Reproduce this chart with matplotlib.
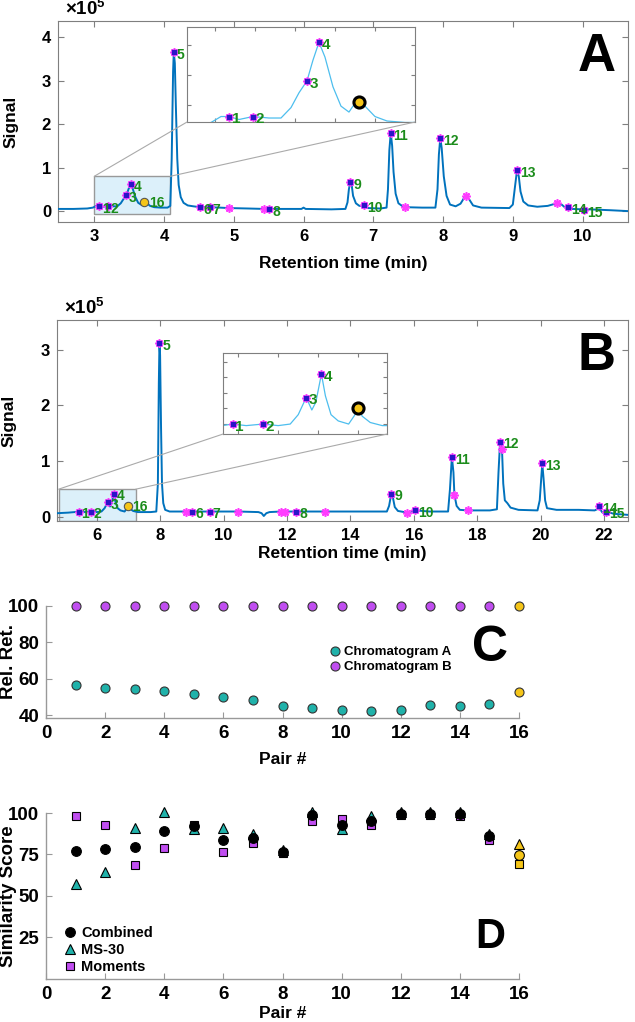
import matplotlib
matplotlib.use('Agg')
import matplotlib.pyplot as plt
from matplotlib.patches import Rectangle, ConnectionPatch

plt.rcParams['font.family'] = ['Liberation Sans', 'DejaVu Sans']
plt.rcParams['font.weight'] = 'bold'
plt.rcParams['axes.labelweight'] = 'bold'
plt.rcParams['mathtext.fontset'] = 'custom'
plt.rcParams['mathtext.rm'] = 'Liberation Sans:bold'
plt.rcParams['mathtext.bf'] = 'Liberation Sans:bold'

# ---- chromatogram A (signal in units of 1e5) ----
trace_A_t = [2.48, 2.7, 2.9, 2.98, 3.03, 3.07, 3.12, 3.19, 3.27, 3.33, 3.38, 3.42, 3.46, 3.49, 3.52,
             3.55, 3.59, 3.63, 3.67, 3.70, 3.72, 3.75, 3.80, 3.86, 3.95, 4.05, 4.09, 4.11, 4.13, 4.14,
             4.155, 4.17, 4.19, 4.21, 4.24, 4.28, 4.34, 4.42, 4.52, 4.66, 4.8, 4.93, 5.2, 5.44, 5.51,
             5.8, 5.97, 6.0, 6.03, 6.4, 6.6, 6.63, 6.65, 6.67, 6.69, 6.71, 6.75, 6.8, 6.87, 6.92,
             7.1, 7.19, 7.21, 7.23, 7.25, 7.27, 7.29, 7.32, 7.36, 7.42, 7.46, 7.7, 7.89, 7.92, 7.94,
             7.96, 7.98, 8.01, 8.05, 8.1, 8.18, 8.25, 8.3, 8.33, 8.37, 8.43, 8.55, 8.95, 9.0, 9.03,
             9.06, 9.085, 9.11, 9.15, 9.22, 9.35, 9.5, 9.63, 9.7, 9.75, 9.79, 9.85, 10.0, 10.02, 10.1,
             10.4, 10.65]
trace_A_y = [0.05, 0.05, 0.06, 0.08, 0.12, 0.12, 0.10, 0.12, 0.11, 0.11, 0.18, 0.28, 0.36, 0.50, 0.62,
             0.52, 0.32, 0.19, 0.15, 0.21, 0.22, 0.19, 0.12, 0.09, 0.08, 0.08, 0.12, 1.2, 3.2, 3.66,
             3.4, 2.4, 1.2, 0.6, 0.32, 0.19, 0.13, 0.11, 0.09, 0.09, 0.08, 0.07, 0.06, 0.05, 0.05,
             0.05, 0.05, 0.08, 0.05, 0.04, 0.05, 0.2, 0.5, 0.67, 0.6, 0.35, 0.18, 0.12, 0.13, 0.07,
             0.06, 0.08, 0.5, 1.4, 1.8, 1.5, 0.9, 0.4, 0.18, 0.11, 0.09, 0.08, 0.08, 0.5, 1.3,
             1.68, 1.45, 0.8, 0.35, 0.15, 0.11, 0.17, 0.3, 0.34, 0.28, 0.13, 0.08, 0.07, 0.15, 0.55,
             0.94, 0.8, 0.45, 0.22, 0.13, 0.1, 0.12, 0.18, 0.15, 0.08, 0.09, 0.05, 0.04, 0.02, 0.04,
             0.02, 0.0]
peaks_A_t = [3.07, 3.19, 3.46, 3.52, 4.14, 4.52, 4.66, 5.51, 6.67, 6.87, 7.25, 7.96, 9.06, 9.79, 10.02]
peaks_A_y = [0.12, 0.12, 0.36, 0.62, 3.66, 0.09, 0.09, 0.05, 0.67, 0.13, 1.80, 1.68, 0.94, 0.09, 0.02]
extra_A_t = [4.93, 5.44, 7.46, 8.33, 9.63]
extra_A_y = [0.07, 0.05, 0.09, 0.34, 0.18]
pair16_A = (3.72, 0.22)

# ---- chromatogram B ----
trace_B_t = [4.75, 5.1, 5.3, 5.43, 5.6, 5.81, 6.0, 6.15, 6.25, 6.35, 6.42, 6.47, 6.54, 6.59, 6.66,
             6.75, 6.88, 6.96, 7.0, 7.05, 7.15, 7.3, 7.7, 7.88, 7.93, 7.96, 7.98, 8.0, 8.03, 8.06,
             8.1, 8.16, 8.3, 8.83, 9.02, 9.56, 10.47, 11.1, 11.2, 11.27, 11.35, 11.45, 11.8, 11.95, 12.3,
             13.2, 14.5, 15.15, 15.22, 15.29, 15.34, 15.4, 15.5, 15.8, 16.05, 16.5, 17.08, 17.14, 17.2, 17.25,
             17.28, 17.35, 17.45, 17.7, 18.4, 18.62, 18.67, 18.72, 18.78, 18.82, 18.87, 18.95, 19.05, 19.3, 19.9,
             19.97, 20.05, 20.09, 20.14, 20.2, 20.5, 21.2, 21.7, 21.78, 21.84, 21.9, 21.95, 22.06, 22.3, 22.75]
trace_B_y = [0.07, 0.08, 0.09, 0.10, 0.09, 0.10, 0.09, 0.10, 0.16, 0.27, 0.19, 0.24, 0.42, 0.28, 0.16,
             0.12, 0.10, 0.16, 0.20, 0.15, 0.11, 0.09, 0.09, 0.10, 0.6, 2.4, 3.12, 2.9, 1.6, 0.6,
             0.25, 0.13, 0.10, 0.10, 0.10, 0.10, 0.10, 0.09, 0.07, 0.02, 0.07, 0.09, 0.10, 0.10, 0.10,
             0.10, 0.10, 0.10, 0.2, 0.42, 0.35, 0.18, 0.11, 0.08, 0.12, 0.10, 0.10, 0.5, 1.08, 0.8,
             0.40, 0.2, 0.13, 0.12, 0.12, 0.14, 0.8, 1.35, 1.22, 0.6, 0.3, 0.25, 0.17, 0.13, 0.12,
             0.3, 0.96, 0.7, 0.3, 0.16, 0.13, 0.13, 0.12, 0.14, 0.20, 0.12, 0.08, 0.10, 0.06, 0.04]
peaks_B_t = [5.43, 5.81, 6.35, 6.54, 7.98, 9.02, 9.56, 12.3, 15.29, 16.05, 17.2, 18.72, 20.05, 21.84, 22.06]
peaks_B_y = [0.10, 0.10, 0.27, 0.42, 3.12, 0.10, 0.10, 0.10, 0.42, 0.12, 1.08, 1.35, 0.96, 0.20, 0.10]
extra_B_t = [8.83, 10.47, 11.8, 11.95, 13.2, 15.8, 17.28, 17.7, 18.78]
extra_B_y = [0.10, 0.10, 0.10, 0.10, 0.10, 0.08, 0.40, 0.12, 1.22]
pair16_B = (7.0, 0.20)

peak_labels = [str(i) for i in range(1, 16)]

# ---- panel C / D ----
pairs = list(range(1, 16))
relret_A = [56.6, 55.0, 54.5, 53.4, 51.6, 50.0, 48.4, 45.0, 43.9, 42.9, 42.3, 43.0, 45.5, 45.0, 46.3]
relret_B = [100, 100, 100, 100, 100, 100, 100, 100, 100, 100, 100, 100, 100, 100, 100]
relret_16 = [53.0, 100.0]

combined = [77.2, 78.4, 79.6, 89.3, 91.9, 83.7, 84.9, 76.4, 98.6, 92.5, 95.4, 99.4, 99.4, 99.4, 86.3]
ms30 = [57.3, 64.3, 90.9, 100.8, 90.3, 90.7, 87.5, 77.8, 100.8, 90.3, 98.0, 100.5, 100.5, 100.5, 87.5]
moments = [98.0, 92.5, 68.5, 78.8, 93.0, 76.6, 81.9, 75.8, 95.4, 96.6, 92.5, 98.6, 98.6, 98.0, 83.5]
score16 = {'combined': 74.6, 'ms30': 81.3, 'moments': 69.2}

BLUE = '#0072BD'
LIGHT = '#4DBEEE'
MAGENTA = '#ff3cff'
DOT = '#2a14c8'
GREEN = '#1b8c1b'
YELLOW = '#f5c518'
TEAL = '#20b2aa'
PURPLE = '#c04ef0'
GRAY = '#7f7f7f'


def box_axes(ax):
    for s in ax.spines.values():
        s.set_color(GRAY)
        s.set_linewidth(0.8)
    ax.tick_params(direction='in', top=True, right=True, length=4, color=GRAY,
                   labelsize=12, pad=5)


def mark(ax, pt, py, et, ey, p16, labels=True, big16=False, fs=10):
    ax.plot(et, ey, ls='none', marker=(8, 2, 0), ms=6, mew=1.2, color=MAGENTA, zorder=4)
    ax.plot(pt, py, ls='none', marker=(8, 2, 0), ms=6, mew=1.2, color=MAGENTA, zorder=4)
    ax.plot(pt, py, ls='none', marker='s', ms=2.5, color=DOT, zorder=5)
    if labels:
        for x, y, lab in zip(pt, py, labels):
            ax.annotate(lab, (x, y), xytext=(2, -2), textcoords='offset points',
                        ha='left', va='center', color=GREEN, fontsize=fs, fontweight='bold',
                        zorder=6, annotation_clip=False)
    if big16:
        ax.plot([p16[0]], [p16[1]], 'o', ms=8, mfc=YELLOW, mec='black', mew=2.2, zorder=6)
    else:
        ax.plot([p16[0]], [p16[1]], 'o', ms=6, mfc=YELLOW, mec='#555555', mew=0.8, zorder=6)
        ax.annotate('16', p16, xytext=(3, -1), textcoords='offset points', ha='left',
                    va='center', color=GREEN, fontsize=fs, fontweight='bold', zorder=6)


def chrom_panel(rect, t, y, pt, py, et, ey, p16, xlim, ylim, xticks, yticks, zoom_box,
                inset_rect, inset_xlim, inset_ylim, inset_xt, inset_yt, letter, xlab_y, nlab):
    ax = fig.add_axes(rect)
    ax.plot(t, y, color=BLUE, lw=1.4, zorder=3)
    mark(ax, pt, py, et, ey, p16, labels=peak_labels)
    ax.set_xlim(*xlim)
    ax.set_ylim(*ylim)
    ax.set_xticks(xticks)
    ax.set_yticks(yticks)
    box_axes(ax)
    ax.set_xlabel('Retention time (min)', fontsize=12.5)
    ax.xaxis.set_label_coords(0.5, xlab_y)
    ax.set_ylabel('Signal', fontsize=12.5)
    ax.yaxis.set_label_coords(-0.07, 0.5)
    ax.text(0.012, 1.028, r'$\times\mathbf{10^{5}}$', transform=ax.transAxes,
            fontsize=13.5, ha='left', va='baseline')
    ax.text(0.945, 0.82, letter, transform=ax.transAxes, fontsize=38, fontweight='bold',
            ha='center', va='center')
    x0, x1, y0, y1 = zoom_box
    ax.add_patch(Rectangle((x0, y0), x1 - x0, y1 - y0, facecolor='#dcf0fa',
                           edgecolor='#999999', lw=1.0, zorder=1))

    ins = fig.add_axes(inset_rect)
    ins.plot(t, y, color=LIGHT, lw=0.9)
    mark(ins, pt[:4], py[:4], [], [], p16, labels=peak_labels[:4], big16=True, fs=nlab)
    ins.set_xlim(*inset_xlim)
    ins.set_ylim(*inset_ylim)
    ins.set_xticks(inset_xt)
    ins.set_yticks(inset_yt)
    for s in ins.spines.values():
        s.set_color(GRAY)
        s.set_linewidth(0.8)
    ins.tick_params(direction='in', top=True, right=True, length=3, color=GRAY,
                    labelbottom=False, labelleft=False)
    for xa, xb in ((x0, 0), (x1, 1)):
        con = ConnectionPatch(xyA=(xa, y1), coordsA=ax.transData,
                              xyB=(xb, 0), coordsB=ins.transAxes,
                              color='#aaaaaa', lw=0.8)
        fig.add_artist(con)
    return ax


fig = plt.figure(figsize=(6.35, 10.22), dpi=100)

chrom_panel([0.0913, 0.7828, 0.8976, 0.1967], trace_A_t, trace_A_y, peaks_A_t, peaks_A_y,
            extra_A_t, extra_A_y, pair16_A, (2.48, 10.65), (-0.25, 4.37), range(3, 11),
            range(0, 5), (3.0, 4.09, -0.07, 0.80),
            [0.2945, 0.8806, 0.359, 0.093], (2.86, 4.0), (0.083, 0.723),
            [3.0, 3.2, 3.4, 3.6, 3.8], [0.2, 0.4, 0.6], 'A', -0.17, 11)

chrom_panel([0.0898, 0.4902, 0.899, 0.1967], trace_B_t, trace_B_y, peaks_B_t, peaks_B_y,
            extra_B_t, extra_B_y, pair16_B, (4.75, 22.75), (-0.07, 3.53), range(6, 23, 2),
            range(0, 4), (4.8, 7.23, -0.07, 0.50),
            [0.3512, 0.5753, 0.2583, 0.0793], (5.31, 7.36), (0.036, 0.555),
            [5.5, 6.0, 6.5, 7.0], [0.1, 0.2, 0.3, 0.4, 0.5], 'B', -0.124, 11)


def open_axes(ax):
    for s in ('top', 'right'):
        ax.spines[s].set_visible(False)
    for s in ('left', 'bottom'):
        ax.spines[s].set_color('#999999')
        ax.spines[s].set_linewidth(1.0)
    ax.tick_params(direction='in', length=4, color='#999999', labelsize=13.5, pad=5)
    ax.set_xlim(0, 16)
    ax.set_xticks(range(0, 17, 2))
    ax.set_xlabel('Pair #', fontsize=12.5)


# ---- C ----
axc = fig.add_axes([0.0724, 0.2975, 0.745, 0.1096])
axc.plot(pairs, relret_A, 'o', ms=6.5, mfc=TEAL, mec='#333333', mew=0.8, label='Chromatogram A',
         clip_on=False, zorder=3)
axc.plot(pairs, relret_B, 'o', ms=6.5, mfc=PURPLE, mec='#333333', mew=0.8, label='Chromatogram B',
         clip_on=False, zorder=3)
axc.plot([16, 16], relret_16, 'o', ms=6.5, mfc=YELLOW, mec='#333333', mew=0.8, clip_on=False, zorder=3)
open_axes(axc)
axc.set_ylim(38.5, 100)
axc.set_yticks([40, 60, 80, 100])
axc.xaxis.set_label_coords(0.5, -0.30)
axc.set_ylabel('Rel. Ret.', fontsize=13.5)
axc.yaxis.set_label_coords(-0.062, 0.5)
axc.legend(loc='center left', bbox_to_anchor=(0.575, 0.52), frameon=False, handlelength=0.8,
           handletextpad=0.3, labelspacing=0.2, prop={'weight': 'bold', 'size': 9.5})
axc.text(0.939, 0.625, 'C', transform=axc.transAxes, fontsize=36, fontweight='bold',
         ha='center', va='center')

# ---- D ----
axd = fig.add_axes([0.0724, 0.0421, 0.745, 0.1624])
axd.plot(pairs, ms30, '^', ms=7.5, mfc=TEAL, mec='black', mew=0.8, label='MS-30',
         clip_on=False, zorder=3)
axd.plot(pairs, moments, 's', ms=5.5, mfc=PURPLE, mec='black', mew=0.8, label='Moments',
         clip_on=False, zorder=4)
axd.plot(pairs, combined, 'o', ms=7, mfc='black', mec='black', mew=0.8, label='Combined',
         clip_on=False, zorder=5)
axd.plot([16], [score16['ms30']], '^', ms=7.5, mfc=YELLOW, mec='black', mew=0.8, clip_on=False, zorder=3)
axd.plot([16], [score16['moments']], 's', ms=5.5, mfc=YELLOW, mec='black', mew=0.8, clip_on=False, zorder=4)
axd.plot([16], [score16['combined']], 'o', ms=7, mfc=YELLOW, mec='black', mew=0.8, clip_on=False, zorder=5)
open_axes(axd)
axd.set_ylim(0, 100)
axd.set_yticks([25, 50, 75, 100])
axd.xaxis.set_label_coords(0.5, -0.16)
axd.set_ylabel('Similarity Score', fontsize=13.5)
axd.yaxis.set_label_coords(-0.061, 0.5)
h, l = axd.get_legend_handles_labels()
axd.legend([h[2], h[0], h[1]], [l[2], l[0], l[1]], loc='center left', bbox_to_anchor=(0.01, 0.175),
           frameon=False, handlelength=0.8, handletextpad=0.4, labelspacing=0.2,
           prop={'weight': 'bold', 'size': 10.5})
axd.text(0.939, 0.253, 'D', transform=axd.transAxes, fontsize=30, fontweight='bold',
         ha='center', va='center')

fig.savefig('out.png', dpi=100)
